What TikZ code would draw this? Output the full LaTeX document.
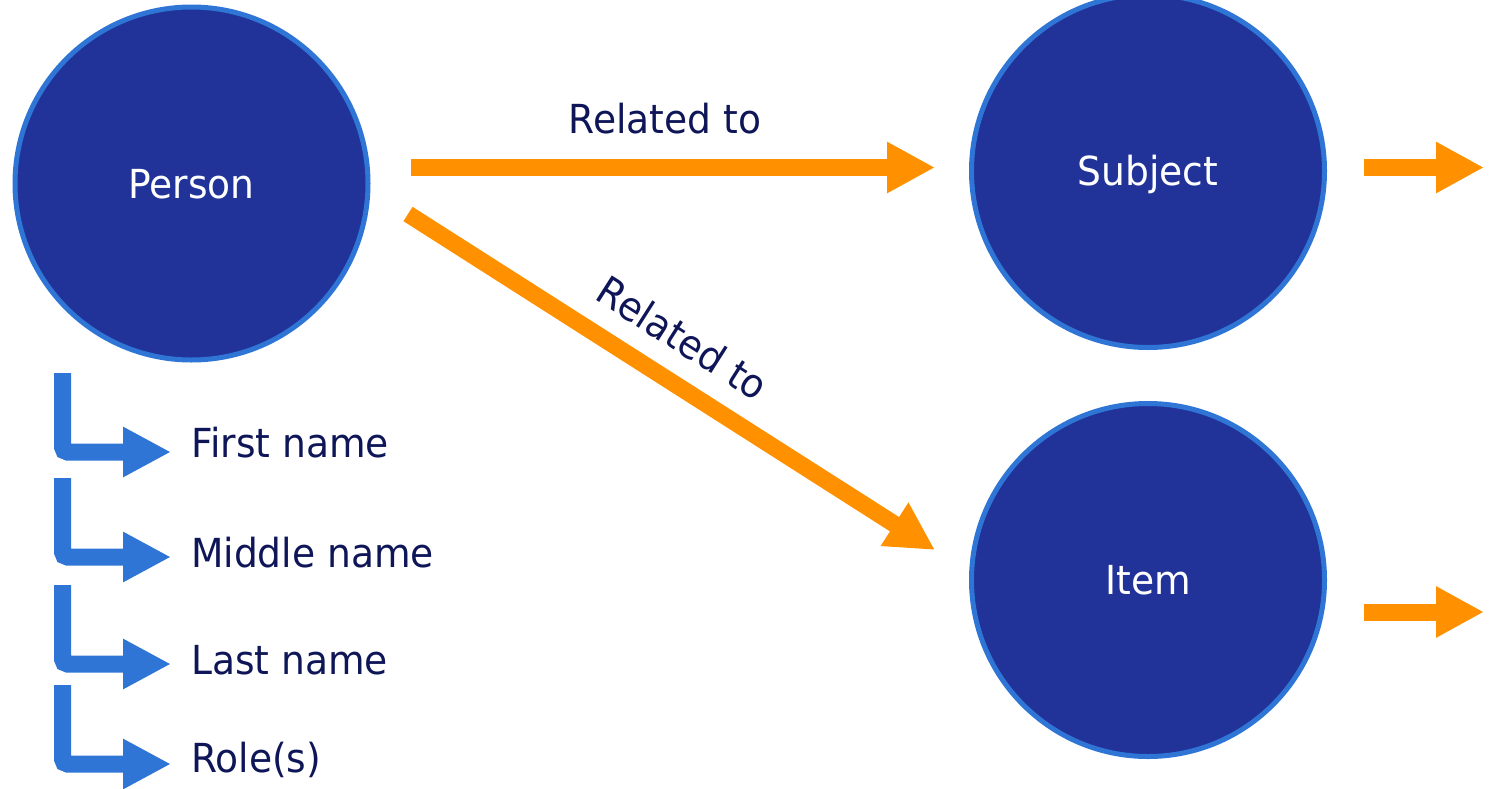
\documentclass[tikz,border=0pt]{standalone}
\usepackage{fontspec}
\setmainfont{DejaVu Sans}[FakeStretch=0.94]
\usetikzlibrary{arrows.meta}
\definecolor{circfill}{RGB}{33,51,153}
\definecolor{circline}{RGB}{46,117,214}
\definecolor{orangec}{RGB}{255,145,0}
\definecolor{navy}{RGB}{14,22,88}
\definecolor{bluearr}{RGB}{46,117,214}
\begin{document}
\begin{tikzpicture}[x=1pt,y=-1pt,
  entity/.style={circle, fill=circfill, draw=circline, line width=5pt,
    minimum size=353pt, inner sep=0pt, outer sep=0pt, text=white,
    text height=29pt, text depth=0pt, font=\fontsize{40}{48}\selectfont},
  lbl/.style={text=navy, font=\fontsize{40}{48}\selectfont, inner sep=0pt},
  orangearrow/.style={draw=orangec, line width=17pt,
    -{Triangle[length=48pt,width=48pt]}},
  bluearrow/.style={draw=bluearr, line width=17pt, rounded corners=5pt,
    -{Triangle[length=48pt,width=47pt]}}]
\useasboundingbox (0,0) rectangle (1493,788);

% entities
\node[entity] (person) at (191.5,183.5) {Person};
\node[entity] (subject) at (1148,171) {Subject};
\node[entity] (item) at (1148,580) {Item};

% labels
\node[lbl, anchor=base] (rel1) at (665,133) {Related to};
\node[lbl, rotate=-32.5] (rel2) at (683,338) {Related to};

% orange connectors
\draw[orangearrow] ([shift={(43,-16)}]person.east) -- ([shift={(-36.5,-3.5)}]subject.west);
\draw[orangearrow] ([shift={(40,30.5)}]person.east) -- ([shift={(-36.5,-30)}]item.west);
\coordinate (sout) at (1484,167.5);
\coordinate (iout) at (1484,612);
\draw[orangearrow] ([shift={(39.5,-3.5)}]subject.east) -- (sout);
\draw[orangearrow] ([shift={(39.5,32)}]item.east) -- (iout);

% attribute list
\node[lbl, anchor=base west] (first) at (191,457) {First name};
\node[lbl, anchor=base west] (middle) at (191,567) {Middle name};
\node[lbl, anchor=base west] (last) at (191,674) {Last name};
\node[lbl, anchor=base west] (role) at (191,772) {Role(s)};

\coordinate (b1) at (62.5,373);
\coordinate (b2) at (62.5,478);
\coordinate (b3) at (62.5,585);
\coordinate (b4) at (62.5,685);

\draw[bluearrow] (b1) |- ([shift={(-20,-5)}]first.base west);
\draw[bluearrow] (b2) |- ([shift={(-20,-10)}]middle.base west);
\draw[bluearrow] (b3) |- ([shift={(-20,-10)}]last.base west);
\draw[bluearrow] (b4) |- ([shift={(-20,-8)}]role.base west);
\end{tikzpicture}
\end{document}
